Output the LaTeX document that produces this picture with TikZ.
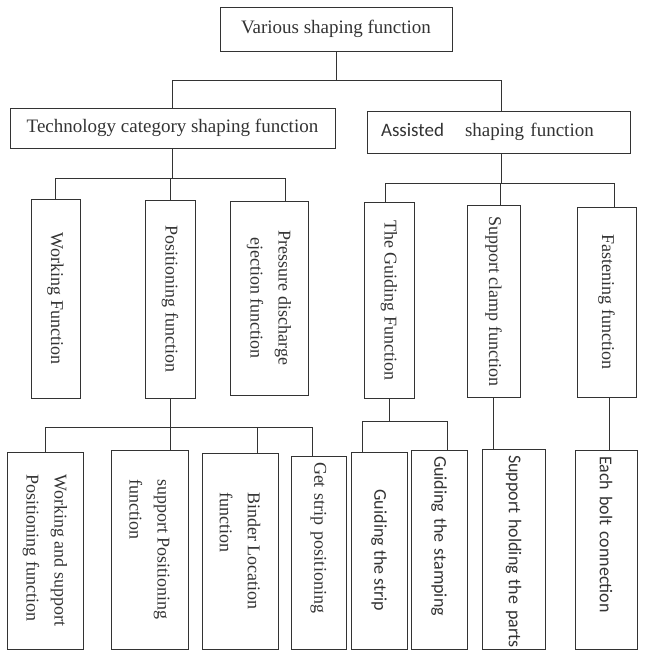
\documentclass[tikz,border=0pt]{standalone}
\usepackage{fontspec}
\setmainfont{Liberation Serif}
\newfontfamily\calibri{Carlito}
\usepackage{tikz}

\begin{document}
\begin{tikzpicture}[x=1pt,y=-1pt,line width=0.9pt,color=black!80,
  hbox/.style={rectangle, draw, line width=1pt, inner sep=0pt, font=\fontsize{19}{24}\selectfont},
  vbox/.style={rectangle, draw, line width=1pt, rotate=-90, inner sep=0pt, align=center, font=\fontsize{18}{28}\selectfont},
  topbox/.style={vbox, inner xsep=6pt, align=left},
  calib/.style={font=\calibri\fontsize{18}{28}\selectfont}]
  \useasboundingbox (0,0) rectangle (646,653);
  % Nodes
  \node[hbox, minimum width=232pt, minimum height=44pt] (various) at (336,29) {Various shaping function};
  \node[hbox, minimum width=325pt, minimum height=40pt] (tech) at (172.5,128) {Technology category shaping function};
  \node[hbox, minimum height=42pt, text width=235pt, inner xsep=14pt, align=left] (assist) at (498.5,132) {{\calibri Assisted}\hspace{21pt}shaping function};

  \node[vbox, minimum width=199pt, minimum height=49pt] (work) at (55.5,298.5) {Working Function};
  \node[vbox, minimum width=198pt, minimum height=50pt] (posn) at (170,299) {Positioning function};
  \node[vbox, minimum width=194pt, minimum height=78pt] (press) at (269,298) {Pressure discharge\\ejection function};
  \node[vbox, minimum width=196pt, minimum height=50pt] (guide) at (389,300) {The Guiding Function};
  \node[vbox, minimum width=192pt, minimum height=53pt] (clamp) at (493.5,301) {Support clamp function};
  \node[vbox, minimum width=190pt, minimum height=59pt] (fasten) at (606.5,302) {Fastening function};

  \node[vbox, minimum width=197pt, minimum height=76pt, align=left] (wsp) at (45,550.5) {Working and support\\Positioning function};
  \node[vbox, minimum width=199pt, minimum height=77pt, align=left] (spf) at (149.5,549.5) {support Positioning\\function};
  \node[vbox, minimum width=196pt, minimum height=76pt, align=left] (bind) at (240,551) {Binder Location\\function};
  \node[topbox, text width=181pt, minimum height=55pt] (gets) at (318.5,552.5) {\mbox{Get strip positioning}};
  \node[vbox, calib, minimum width=197pt, minimum height=56pt] (strip) at (379,550.5) {Guiding the strip};
  \node[topbox, calib, text width=187pt, minimum height=56pt] (stamp) at (439,549.5) {\mbox{Guiding the stamping}};
  \node[topbox, calib, text width=188pt, minimum height=63pt] (hold) at (513.5,549) {\mbox{Support holding the parts}};
  \node[topbox, calib, text width=187pt, minimum height=62pt] (bolt) at (606,549.5) {\mbox{Each bolt connection}};

  % bus lines
  \coordinate (mbus) at (0,80);
  \coordinate (tbus) at (0,178);
  \coordinate (abus) at (0,183);
  \coordinate (pbus) at (0,427);
  \coordinate (gbus) at (0,421);

  \draw (various.south) -- (various.south |- mbus);
  \draw (tech.north) |- ([xshift=2.5pt]assist.north |- mbus) -- ([xshift=2.5pt]assist.north);

  \draw (tech.south) -- (tech.south |- tbus);
  \draw (work.west) |- ([xshift=16pt]press.west |- tbus) -- ([xshift=16pt]press.west);
  \draw (posn.west) -- (posn.west |- tbus);

  \draw ([xshift=2.5pt]assist.south) -- ([xshift=2.5pt]assist.south |- abus);
  \draw ([xshift=-4pt]guide.west) |- ([xshift=7.5pt]fasten.west |- abus) -- ([xshift=7.5pt]fasten.west);
  \draw ([xshift=6.5pt]clamp.west) -- ([xshift=6.5pt]clamp.west |- abus);

  \draw (posn.east) -- (posn.east |- spf.west);
  \draw (wsp.west) |- ([xshift=-6.5pt]gets.west |- pbus) -- ([xshift=-6.5pt]gets.west);
  \draw ([xshift=17pt]bind.west) -- ([xshift=17pt]bind.west |- pbus);

  \draw (guide.east) -- (guide.east |- gbus);
  \draw ([xshift=-17pt]strip.west) |- ([xshift=8pt]stamp.west |- gbus) -- ([xshift=8pt]stamp.west);
  \draw (clamp.east) -- (clamp.east |- hold.west);
  \draw ([xshift=2.5pt]fasten.east) -- ([xshift=2.5pt]fasten.east |- bolt.west);
\end{tikzpicture}
\end{document}
